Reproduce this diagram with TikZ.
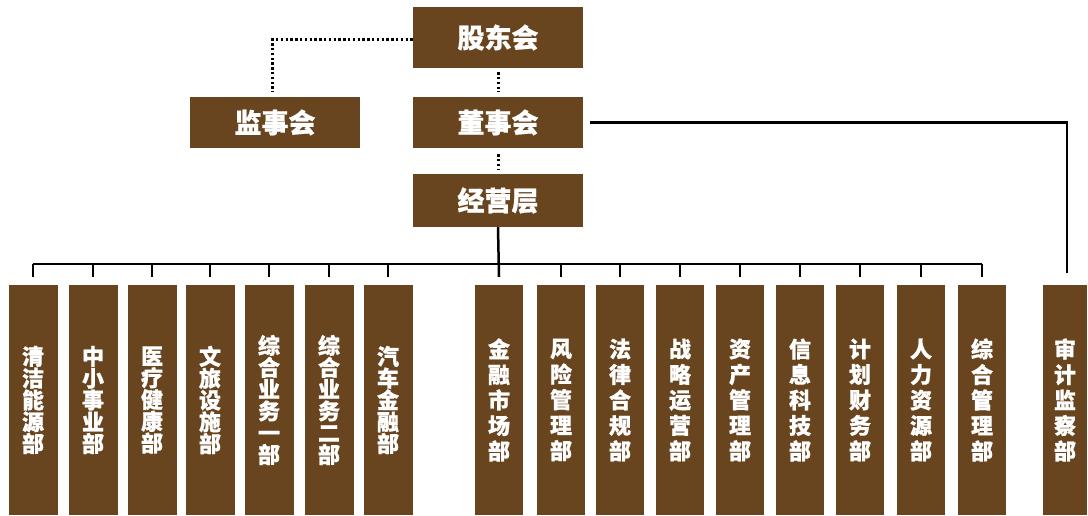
\documentclass[tikz,border=0pt]{standalone}
\usepackage{fontspec}
\newfontfamily\cjk{Noto Sans CJK SC}[BoldFeatures={FakeBold=0.8}]
\definecolor{boxbrown}{RGB}{104,69,31}
\tikzset{
  topbox/.style={fill=boxbrown, text=white, inner sep=0pt, minimum width=170pt, font=\cjk\bfseries\fontsize{27}{30}\selectfont},
  deptL/.style={fill=boxbrown, text=white, inner sep=0pt, minimum width=49pt, minimum height=230pt, align=center, font=\cjk\bfseries\fontsize{22}{21.8}\selectfont},
  deptR/.style={fill=boxbrown, text=white, inner sep=0pt, minimum width=48pt, minimum height=230pt, align=center, font=\cjk\bfseries\fontsize{22}{25.5}\selectfont},
  solidln/.style={draw=black, line width=2.5pt},
  dotln/.style={draw=black, line width=3pt, dash pattern=on 2.4pt off 2.4pt},
}
\begin{document}
\begin{tikzpicture}[x=1pt, y=-1pt]
\useasboundingbox[fill=white] (0,0) rectangle (1088,516);
% top boxes
\node[topbox, minimum height=61pt] (gdh) at (498,37.5) {股东会};
\node[topbox, minimum height=51pt] (dsh) at (498,122.5) {董事会};
\node[topbox, minimum height=53pt] (jyc) at (498,200.5) {经营层};
\node[topbox, minimum height=51pt] (jsh) at (275,122.5) {监事会};
% left group
\node[deptL] (l1) at (33,400) {清\\洁\\能\\源\\部};
\node[deptL] (l2) at (93,400) {中\\小\\事\\业\\部};
\node[deptL] (l3) at (152,400) {医\\疗\\健\\康\\部};
\node[deptL] (l4) at (210,400) {文\\旅\\设\\施\\部};
\node[deptL] (l5) at (269,400) {综\\合\\业\\务\\一\\部};
\node[deptL] (l6) at (329,400) {综\\合\\业\\务\\二\\部};
\node[deptL] (l7) at (388,400) {汽\\车\\金\\融\\部};
% right group
\node[deptR] (r1) at (499,400) {金\\融\\市\\场\\部};
\node[deptR] (r2) at (561,400) {风\\险\\管\\理\\部};
\node[deptR] (r3) at (620,400) {法\\律\\合\\规\\部};
\node[deptR] (r4) at (680,400) {战\\略\\运\\营\\部};
\node[deptR] (r5) at (740,400) {资\\产\\管\\理\\部};
\node[deptR] (r6) at (800,400) {信\\息\\科\\技\\部};
\node[deptR] (r7) at (860,400) {计\\划\\财\\务\\部};
\node[deptR] (r8) at (921,400) {人\\力\\资\\源\\部};
\node[deptR] (r9) at (982,400) {综\\合\\管\\理\\部};
\node[deptR, minimum width=44pt] (sj) at (1065,400) {审\\计\\监\\察\\部};
% dotted connectors
\coordinate (jsbend) at (272,40);
\draw[dotln] (gdh.west |- 0,40) -- (jsbend) -- ([yshift=5pt]jsh.north -| jsbend);
\draw[dotln] ([yshift=-4pt]gdh.south) -- ([yshift=5pt]dsh.north);
\draw[dotln] ([yshift=-6pt]dsh.south) -- ([yshift=5pt]jyc.north);
% solid connectors
\coordinate (busL) at (33,264);
\coordinate (busR) at (982,264);
\draw[solidln] (jyc.south) -- ([yshift=8pt]r1.north);
\draw[solidln] (busL) -- (busR);
\foreach \n in {l1,l2,l3,l4,l5,l6,l7,r2,r3,r4,r5,r6,r7,r8,r9}{
  \draw[solidln] (\n.north |- busL) -- ([yshift=8pt]\n.north);
}
\coordinate (sjbend) at (1067,122.5);
\draw[solidln] ([xshift=7pt]dsh.east) -- (sjbend) -- ([yshift=12pt]sjbend |- sj.north);
\end{tikzpicture}
\end{document}
